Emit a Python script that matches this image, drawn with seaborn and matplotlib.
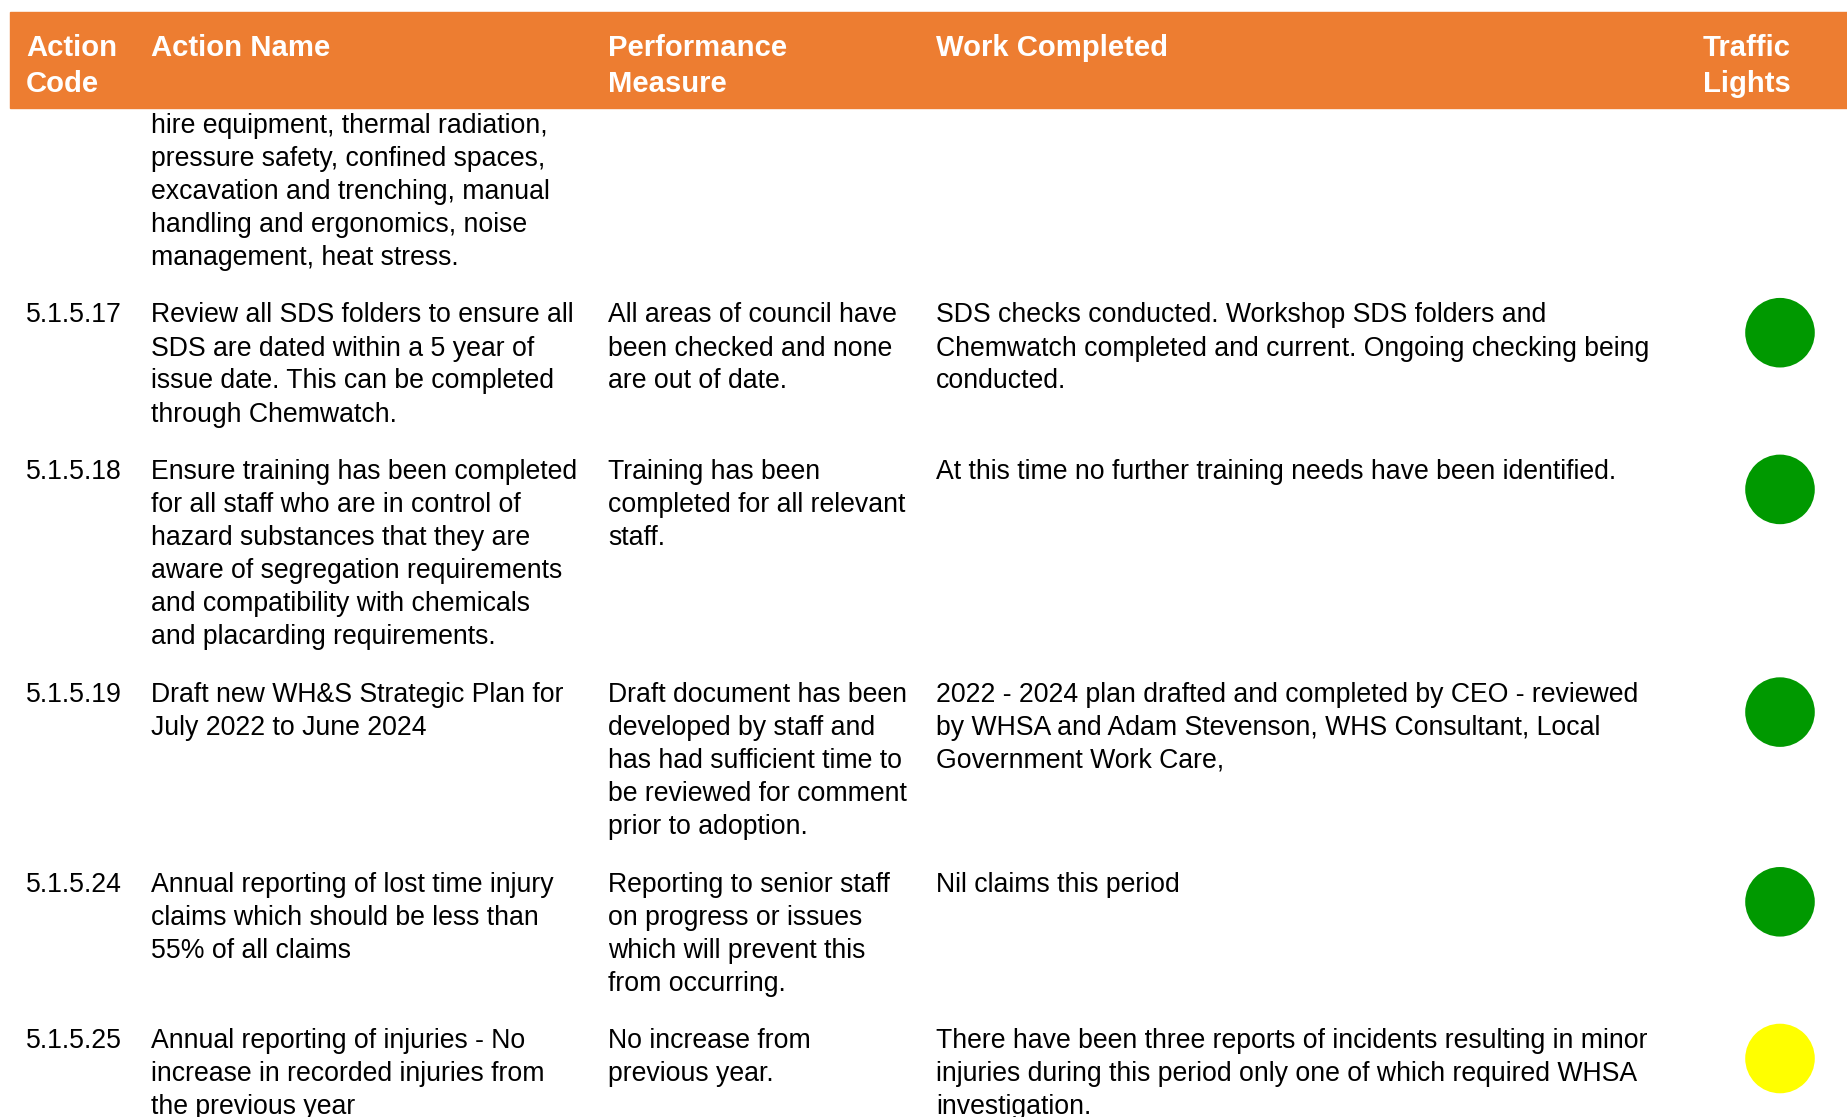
import seaborn as sns
import matplotlib.pyplot as plt
import matplotlib as mpl
import pandas as pd

# table content
headers = ["Action\nCode", "Action Name", "Performance\nMeasure", "Work Completed", "Traffic\nLights"]
codes = ["", "5.1.5.17", "5.1.5.18", "5.1.5.19", "5.1.5.24", "5.1.5.25"]
action_names = [
    "hire equipment, thermal radiation,\npressure safety, confined spaces,\nexcavation and trenching, manual\nhandling and ergonomics, noise\nmanagement, heat stress.",
    "Review all SDS folders to ensure all\nSDS are dated within a 5 year of\nissue date. This can be completed\nthrough Chemwatch.",
    "Ensure training has been completed\nfor all staff who are in control of\nhazard substances that they are\naware of segregation requirements\nand compatibility with chemicals\nand placarding requirements.",
    "Draft new WH&S Strategic Plan for\nJuly 2022 to June 2024",
    "Annual reporting of lost time injury\nclaims which should be less than\n55% of all claims",
    "Annual reporting of injuries - No\nincrease in recorded injuries from\nthe previous year",
]
measures = [
    "",
    "All areas of council have\nbeen checked and none\nare out of date.",
    "Training has been\ncompleted for all relevant\nstaff.",
    "Draft document has been\ndeveloped by staff and\nhas had sufficient time to\nbe reviewed for comment\nprior to adoption.",
    "Reporting to senior staff\non progress or issues\nwhich will prevent this\nfrom occurring.",
    "No increase from\nprevious year.",
]
work_done = [
    "",
    "SDS checks conducted. Workshop SDS folders and\nChemwatch completed and current. Ongoing checking being\nconducted.",
    "At this time no further training needs have been identified.",
    "2022 - 2024 plan drafted and completed by CEO - reviewed\nby WHSA and Adam Stevenson, WHS Consultant, Local\nGovernment Work Care,",
    "Nil claims this period",
    "There have been three reports of incidents resulting in minor\ninjuries during this period only one of which required WHSA\ninvestigation.",
]
lights = [None, "green", "green", "green", "green", "yellow"]

light_palette = {"green": "#009900", "yellow": "#FFFF00"}
orange = "#ED7D31"

W, H = 1847, 1117
col_x = [26, 151, 608, 936, 1703]
light_x = 1780
line_h = 33.0
row_gap = 24.7
first_center = 125.0

sns.set_theme(style="white")
plt.rcParams['font.family'] = ['Liberation Sans', 'DejaVu Sans']

fig = plt.figure(figsize=(W / 100, H / 100), dpi=100)
ax = fig.add_axes([0, 0, 1, 1])

# header band
ax.add_patch(mpl.patches.Rectangle((10, 12), W - 10, 96, color=orange, zorder=1))
for x, h in zip(col_x, headers):
    for j, line in enumerate(h.split("\n")):
        ax.text(x, 56.5 + j * 35, line, color="white", fontsize=21.1, fontweight="bold",
                va="baseline", ha="left", zorder=3)

# body rows
centers = []
yc = first_center
for i in range(len(codes)):
    cells = [codes[i], action_names[i], measures[i], work_done[i]]
    n = max(len(c.split("\n")) for c in cells)
    centers.append(yc)
    for x, c in zip(col_x, cells):
        if not c:
            continue
        for j, line in enumerate(c.split("\n")):
            ax.text(x, yc + 7.8 + j * line_h, line, color="black", fontsize=19.2,
                    va="baseline", ha="left", zorder=3)
    yc += n * line_h + row_gap

df = pd.DataFrame({"x": light_x, "y": [c + 18 for c in centers], "light": lights}).dropna()
sns.scatterplot(data=df, x="x", y="y", hue="light", palette=light_palette, s=2510,
                linewidth=0, legend=False, ax=ax, zorder=2)

ax.set_xlim(0, W)
ax.set_ylim(H, 0)
ax.axis("off")

plt.savefig("out.png", dpi=100)
